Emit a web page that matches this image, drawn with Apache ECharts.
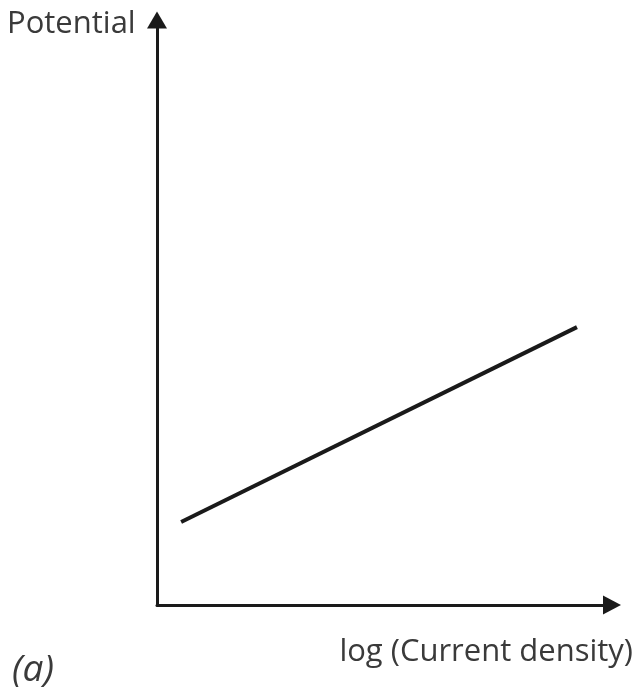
<!DOCTYPE html>
<html>
<head>
<meta charset="utf-8">
<script src="https://cdn.jsdelivr.net/npm/echarts@6/dist/echarts.min.js"></script>
<style>
html,body{margin:0;padding:0;background:#fff;}
#chart{width:640px;height:690px;}
</style>
</head>
<body>
<div id="chart"></div>
<script>
// Data (arbitrary units: axis spans 0..100)
var lineX = [5.3, 92.3];
var lineY = [14.2, 47.5];
var yAxisTitle = 'Potential';
var xAxisTitle = 'log (Current density)';
var panelLabel = '(a)';

var points = lineX.map(function (x, i) { return [x, lineY[i]]; });

var chart = echarts.init(document.getElementById('chart'));
var textColor = '#3a3a3a';
var font = 'Open Sans';
chart.setOption({
  backgroundColor: '#ffffff',
  animation: false,
  grid: { left: 157, right: 28, top: 20, bottom: 85 },
  xAxis: {
    type: 'value', min: 0, max: 100,
    axisLine: { show: true, lineStyle: { color: '#1a1a1a', width: 3 },
      symbol: ['none', 'triangle'], symbolSize: [19, 18], symbolOffset: [0, 0] },
    axisTick: { show: false }, axisLabel: { show: false }, splitLine: { show: false }
  },
  yAxis: {
    type: 'value', min: 0, max: 100,
    axisLine: { show: true, lineStyle: { color: '#1a1a1a', width: 3 },
      symbol: ['none', 'triangle'], symbolSize: [20, 17], symbolOffset: [0, 0] },
    axisTick: { show: false }, axisLabel: { show: false }, splitLine: { show: false }
  },
  series: [{
    type: 'line',
    data: points,
    showSymbol: false,
    lineStyle: { color: '#1a1a1a', width: 4 }
  }],
  graphic: [
    { type: 'text', left: 7, top: 9, style: { text: yAxisTitle, font: '31px "' + font + '"', fill: textColor } },
    { type: 'text', right: 7, top: 637, style: { text: xAxisTitle, font: '31px "' + font + '"', fill: textColor } },
    { type: 'text', left: 12, top: 652, style: { text: panelLabel, font: 'italic 37px "' + font + '"', fill: textColor } }
  ]
});
</script>
</body>
</html>
